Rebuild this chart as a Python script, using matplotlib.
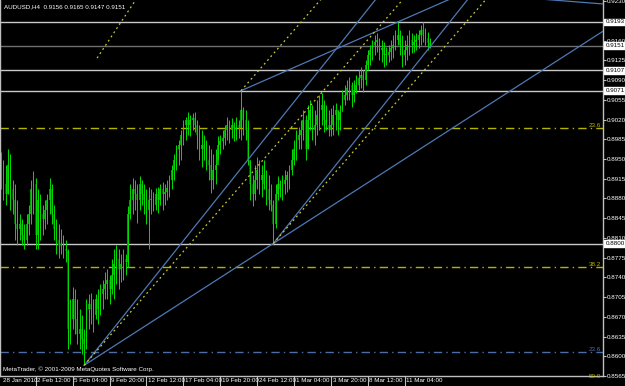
import matplotlib
matplotlib.use('Agg')
import matplotlib.pyplot as plt

plt.rcParams['font.family'] = ['Liberation Sans', 'DejaVu Sans']
FS = 4.5

# AUDUSD H4, prices (in pips, 0.9193 -> 9193)
symbol = 'AUDUSD,H4'
last_ohlc = [0.9156, 0.9165, 0.9147, 0.9151]

high_pips = [8963, 8949, 8940, 8967, 8958, 8913, 8905, 8878, 8852, 8843,
             8834, 8852, 8869, 8913, 8928, 8917, 8896, 8887, 8869, 8878,
             8887, 8917, 8905, 8869, 8843, 8834, 8825, 8816, 8807, 8790,
             8701, 8722, 8719, 8701, 8683, 8674, 8648, 8701, 8710, 8713,
             8701, 8710, 8719, 8728, 8736, 8749, 8754, 8745, 8772, 8790,
             8798, 8790, 8781, 8790, 8781, 8866, 8905, 8917, 8913, 8905,
             8919, 8913, 8905, 8896, 8901, 8896, 8892, 8899, 8901, 8905,
             8910, 8905, 8913, 8922, 8940, 8958, 8975, 8984, 9002, 9020,
             9025, 9034, 9028, 9032, 9034, 9020, 9011, 9002, 8993, 8984,
             8975, 8967, 8958, 8967, 8990, 8993, 9002, 9011, 9025, 9020,
             9023, 9016, 9025, 9020, 9071, 9043, 9037, 9020, 8949, 8922,
             8940, 8954, 8949, 8940, 8949, 8931, 8922, 8905, 8878, 8905,
             8919, 8913, 8922, 8931, 8928, 8940, 8967, 8984, 9002, 9007,
             9020, 9037, 9028, 9046, 9055, 9046, 9037, 9055, 9064, 9067,
             9055, 9046, 9037, 9041, 9046, 9050, 9037, 9046, 9073, 9082,
             9090, 9096, 9087, 9090, 9099, 9108, 9113, 9108, 9126, 9144,
             9152, 9161, 9170, 9174, 9165, 9161, 9158, 9149, 9152, 9161,
             9170, 9179, 9193, 9179, 9170, 9161, 9170, 9179, 9174, 9170,
             9174, 9179, 9188, 9193, 9182, 9175, 9165]
low_pips = [8896, 8878, 8869, 8887, 8860, 8852, 8807, 8798, 8807, 8798,
            8790, 8798, 8816, 8834, 8852, 8790, 8790, 8807, 8816, 8825,
            8834, 8852, 8834, 8807, 8781, 8775, 8781, 8775, 8768, 8613,
            8621, 8648, 8639, 8621, 8613, 8604, 8584, 8613, 8648, 8657,
            8643, 8666, 8657, 8674, 8683, 8701, 8701, 8692, 8710, 8701,
            8728, 8719, 8731, 8736, 8745, 8759, 8843, 8852, 8860, 8837,
            8860, 8869, 8852, 8834, 8790, 8852, 8857, 8860, 8855, 8869,
            8860, 8869, 8878, 8882, 8896, 8913, 8931, 8940, 8949, 8975,
            8984, 8993, 8990, 9002, 8997, 8967, 8949, 8936, 8949, 8931,
            8913, 8890, 8896, 8905, 8949, 8958, 8967, 8975, 8984, 8979,
            8988, 8981, 8984, 8988, 8984, 8993, 8984, 8940, 8878, 8866,
            8878, 8896, 8887, 8883, 8896, 8869, 8860, 8857, 8800, 8828,
            8878, 8883, 8878, 8887, 8892, 8896, 8922, 8940, 8949, 8967,
            8967, 8984, 8949, 8967, 9002, 8984, 8975, 8993, 9002, 9011,
            8997, 9002, 8990, 8990, 8993, 9002, 8993, 9002, 9037, 9046,
            9055, 9055, 9043, 9051, 9067, 9073, 9076, 9069, 9082, 9108,
            9117, 9126, 9135, 9140, 9126, 9122, 9113, 9117, 9122, 9126,
            9129, 9144, 9152, 9135, 9113, 9117, 9126, 9135, 9138, 9140,
            9144, 9147, 9152, 9158, 9152, 9144, 9147]
close_pips = [8922, 8905, 8887, 8940, 8896, 8878, 8834, 8825, 8834, 8816,
              8807, 8834, 8852, 8896, 8905, 8816, 8878, 8852, 8843, 8860,
              8878, 8896, 8852, 8825, 8807, 8798, 8798, 8790, 8786, 8648,
              8666, 8701, 8666, 8639, 8648, 8630, 8621, 8683, 8692, 8683,
              8674, 8701, 8683, 8710, 8719, 8728, 8736, 8719, 8745, 8763,
              8772, 8754, 8763, 8772, 8768, 8852, 8878, 8896, 8887, 8878,
              8905, 8887, 8878, 8860, 8878, 8878, 8869, 8887, 8878, 8896,
              8887, 8892, 8899, 8913, 8931, 8949, 8967, 8975, 8993, 9011,
              9020, 9011, 9020, 9023, 9011, 8993, 8967, 8975, 8967, 8949,
              8940, 8913, 8931, 8940, 8975, 8981, 8988, 9002, 9011, 9002,
              9011, 9005, 9011, 9005, 9037, 9020, 9002, 8949, 8905, 8887,
              8913, 8931, 8913, 8922, 8905, 8896, 8878, 8869, 8834, 8887,
              8905, 8896, 8905, 8913, 8922, 8931, 8949, 8967, 8984, 8993,
              9002, 9020, 8967, 9020, 9037, 9002, 9011, 9028, 9037, 9046,
              9020, 9011, 9002, 9011, 9028, 9037, 9020, 9034, 9055, 9064,
              9076, 9082, 9064, 9073, 9082, 9094, 9099, 9090, 9117, 9135,
              9144, 9152, 9158, 9161, 9144, 9147, 9135, 9135, 9140, 9147,
              9152, 9161, 9170, 9152, 9135, 9144, 9152, 9161, 9152, 9158,
              9161, 9170, 9179, 9170, 9165, 9156, 9151]
first_open_pips = 8940

# time axis labels (bar index, text)
date_pos = [0, 15, 31, 47, 63, 79, 95, 111, 127, 143, 159, 175]
date_txt = ['28 Jan 2010', '2 Feb 12:00', '5 Feb 04:00', '9 Feb 20:00',
            '12 Feb 12:00', '17 Feb 04:00', '19 Feb 20:00', '24 Feb 12:00',
            '1 Mar 04:00', '3 Mar 20:00', '8 Mar 12:00', '11 Mar 04:00']

price_ticks = [0.9230, 0.9160, 0.9125, 0.9090, 0.9055, 0.9020, 0.8985,
               0.8950, 0.8915, 0.8880, 0.8845, 0.8810, 0.8775, 0.8740,
               0.8705, 0.8670, 0.8635, 0.8600, 0.8565]

# horizontal lines
hlines_white = [0.9193, 0.9107, 0.9071, 0.8800]
bid_line = 0.9151

# fibonacci levels (price, label, colour)
fib_levels = [(0.90055, '23.6', '#b4b400'), (0.87577, '38.2', '#b4b400'),
              (0.85590, '50.0', '#b4b400'), (0.86070, '23.6', '#4a6ea8')]

# trend lines / channels: (bar1, price1, bar2, price2), drawn as rays
blue_lines = [(36, 0.8584, 118, 0.9005),
              (36, 0.8584, 118, 0.8800),
              (104, 0.9071, 172, 0.9193),
              (118, 0.8800, 200, 0.9221),
              (236, 0.9233, 261, 0.9225)]
yellow_lines = [(36, 0.8584, 118, 0.8969),
                (104, 0.9071, 138, 0.9230),
                (118, 0.8800, 200, 0.9185),
                (41.6, 0.9129, 58, 0.9230)]

highs = [v / 10000 for v in high_pips]
lows = [v / 10000 for v in low_pips]
closes = [v / 10000 for v in close_pips]
opens = [first_open_pips / 10000] + closes[:-1]
xs = list(range(len(closes)))

bar_px = 2.306
xmax = 603 / bar_px - 0.5

fig = plt.figure(figsize=(6.25, 3.86), dpi=100, facecolor='black')
ax = fig.add_axes([0.0, 10 / 386, 603 / 625, 376 / 386])
ax.set_facecolor('black')
ax.set_xlim(-0.5, xmax)
ax.set_ylim(0.85665, 0.9232)

# candles
for x, o, h, l, c in zip(xs, opens, highs, lows, closes):
    body = '#00a000' if c >= o else '#005a00'
    ax.bar(x, max(abs(c - o), 0.00008), bottom=min(o, c), width=0.7,
           color=body, linewidth=0, zorder=2)
ax.vlines(xs, lows, highs, colors='#00dd00', linewidth=0.7, zorder=3)

for p in hlines_white:
    ax.axhline(p, color='#c8c8c8', linewidth=1, zorder=1)
ax.axhline(bid_line, color='#707070', linewidth=1, zorder=1)

for p, lab, col in fib_levels:
    ax.axhline(p, color=col, linewidth=1, linestyle=(0, (6, 3, 1, 3)), zorder=1)
    ax.text(xmax - 1, p, lab, color=col, fontsize=FS, ha='right', va='bottom')

def ray(seg, **kw):
    x1, p1, x2, p2 = seg
    k = (p2 - p1) / (x2 - x1)
    ax.plot([x1, xmax], [p1, p1 + k * (xmax - x1)], **kw)

for seg in blue_lines:
    ray(seg, color='#4f78b4', linewidth=0.9, zorder=4)
for seg in yellow_lines:
    ray(seg, color='#c8c832', linewidth=0.9, linestyle=(0, (1.5, 2.5)), zorder=4)

# axes look
ax.spines['top'].set_visible(False)
for s in ['left', 'right', 'bottom']:
    ax.spines[s].set_color('#c0c0c0')
    ax.spines[s].set_linewidth(1)

ax.yaxis.tick_right()
ax.set_yticks(price_ticks)
ax.set_yticklabels(['%.4f' % p for p in price_ticks])
ax.tick_params(axis='y', colors='#c0c0c0', labelcolor='white', labelsize=FS,
               length=2, pad=1)

ax.set_xticks(date_pos[1:])
ax.set_xticklabels([])
ax.tick_params(axis='x', colors='#c0c0c0', length=7, width=0.8)
for pos, txt in zip(date_pos, date_txt):
    ax.annotate(txt, xy=(pos, 0), xycoords=('data', 'axes fraction'),
                xytext=(1.2, -1.5), textcoords='offset points', ha='left',
                va='top', fontsize=FS, color='white', annotation_clip=False)

# price boxes for horizontal lines
for p in hlines_white + [bid_line]:
    ax.text(1.004, p, '%.4f' % p, transform=ax.get_yaxis_transform(),
            fontsize=FS, color='black', va='center', ha='left', zorder=10,
            bbox=dict(boxstyle='square,pad=0.15', fc='white', ec='white'),
            clip_on=False)

ax.text(0.007, 0.988, symbol + '  ' + ' '.join('%.4f' % v for v in last_ohlc),
        transform=ax.transAxes, fontsize=FS, color='white', va='top', ha='left')
ax.text(0.005, 0.01, 'MetaTrader, \u00a9 2001-2009 MetaQuotes Software Corp.',
        transform=ax.transAxes, fontsize=FS, color='white', va='bottom',
        ha='left')

fig.savefig('out.png', dpi=100, facecolor='black')
